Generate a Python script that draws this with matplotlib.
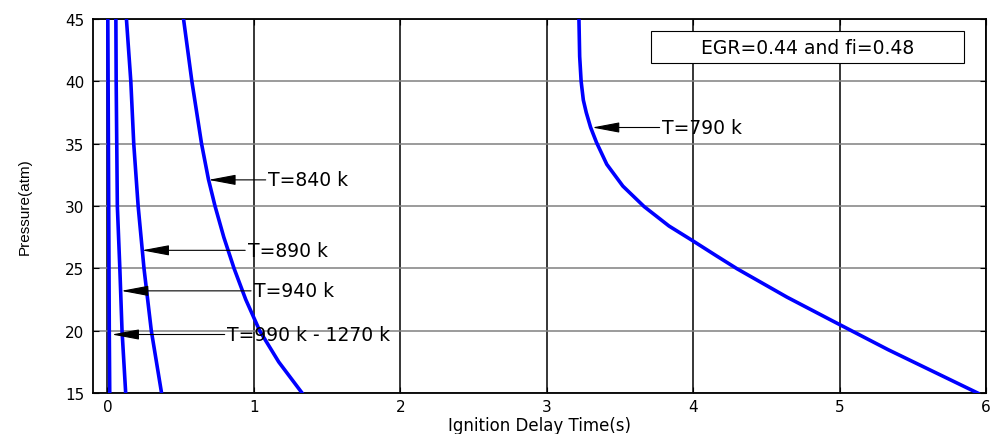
import numpy as np
import matplotlib.pyplot as plt
from matplotlib.patches import Rectangle

plt.rcParams['font.family'] = ['DejaVu Sans']

# pressure (atm) vs ignition delay time (s)
p_790 = [45, 42, 40, 38.5, 37.5, 36.3, 35.1, 33.35, 31.6, 29.96, 28.4,
         27.27, 26.0, 24.97, 22.7, 20.77, 18.49, 15.0]
t_790 = [3.22, 3.225, 3.235, 3.25, 3.27, 3.30, 3.34, 3.41, 3.52, 3.665, 3.835,
         3.99, 4.16, 4.30, 4.64, 4.955, 5.33, 5.944]

p_840 = [45, 40, 35, 32.15, 30, 27.5, 25, 22.5, 20, 17.5, 15]
t_840 = [0.52, 0.577, 0.643, 0.69, 0.735, 0.795, 0.865, 0.945, 1.04, 1.17, 1.33]

p_890 = [45, 40, 35, 30, 25, 20, 15]
t_890 = [0.13, 0.16, 0.18, 0.21, 0.25, 0.30, 0.37]

p_940 = [45, 40, 35, 30, 25, 20, 15]
t_940 = [0.058, 0.060, 0.064, 0.068, 0.085, 0.10, 0.125]

p_990 = [45, 40, 35, 30, 25, 20, 15]
t_990 = [0.003, 0.005, 0.007, 0.009, 0.011, 0.013, 0.016]

# label text, arrow tip (t, p), text start (t, p)
labels = ['T=790 k', 'T=840 k', 'T=890 k', 'T=940 k', 'T=990 k - 1270 k']
tips = [(3.31, 36.3), (0.69, 32.1), (0.235, 26.45), (0.094, 23.2), (0.03, 19.7)]
text_pos = [(3.79, 36.3), (1.10, 32.1), (0.96, 26.45), (1.00, 23.2), (0.82, 19.7)]

fig = plt.figure(figsize=(9.94, 4.35), dpi=100)
ax = fig.add_axes([0.0933, 0.094, 0.8987, 0.86])

for t, p in [(t_790, p_790), (t_840, p_840), (t_890, p_890), (t_940, p_940), (t_990, p_990)]:
    ax.plot(t, p, color='#0000ff', lw=2.6, zorder=3)

for lab, tip, tp in zip(labels, tips, text_pos):
    ax.annotate(lab, xy=tip, xytext=tp, fontsize=13.5, va='center', ha='left',
                arrowprops=dict(arrowstyle='-|>,head_length=0.85,head_width=0.16',
                                color='black', lw=0.8, shrinkA=0, shrinkB=0,
                                relpos=(0, 0.5), mutation_scale=20),
                zorder=4)

ax.add_patch(Rectangle((0.625, 0.882), 0.350, 0.0856, transform=ax.transAxes,
                       facecolor='white', edgecolor='black', lw=0.8, zorder=5))
ax.text(0.800, 0.925, 'EGR=0.44 and fi=0.48', transform=ax.transAxes,
        ha='center', va='center', fontsize=13.5, zorder=6)

ax.set_xlim(-0.1, 6)
ax.set_ylim(15, 45)
ax.set_xticks(np.arange(0, 7, 1))
ax.set_yticks(np.arange(15, 46, 5))
ax.xaxis.grid(True, color='black', lw=1.1)
ax.yaxis.grid(True, color='#808080', lw=1.1)
ax.set_axisbelow(True)
ax.tick_params(direction='in', top=True, right=True, length=4, labelsize=11, pad=6)
ax.tick_params(axis='x', pad=4)
for s in ax.spines.values():
    s.set_linewidth(1.3)

ax.set_xlabel('Ignition Delay Time(s)', fontsize=12)
ax.xaxis.label.set_va('baseline')
ax.xaxis.set_label_coords(0.5, -0.098)
ax.set_ylabel('Pressure(atm)', fontsize=11, family='Liberation Sans')
ax.yaxis.set_label_coords(-0.068, 0.5)

fig.savefig('out.png', dpi=100)
